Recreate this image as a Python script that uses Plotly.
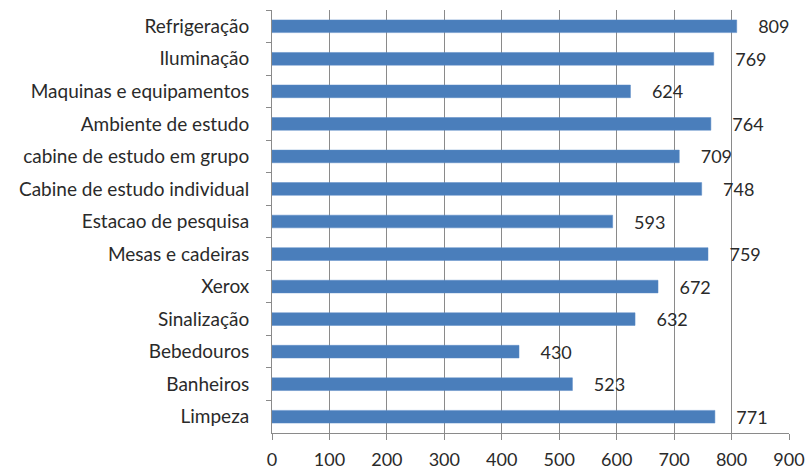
import plotly.graph_objects as go

categories = ["Refrigeração", "Iluminação", "Maquinas e equipamentos", "Ambiente de estudo",
              "cabine de estudo em grupo", "Cabine de estudo individual", "Estacao de pesquisa",
              "Mesas e cadeiras", "Xerox", "Sinalização", "Bebedouros", "Banheiros", "Limpeza"]
values = [809, 769, 624, 764, 709, 748, 593, 759, 672, 632, 430, 523, 771]
x_ticks = [0, 100, 200, 300, 400, 500, 600, 700, 800, 900]

font_family = "Lato, 'Open Sans', sans-serif"
text_color = "#2a2a2a"

fig = go.Figure()
fig.add_trace(go.Bar(
    y=categories, x=values, orientation="h",
    marker=dict(color="#4A7EBB", line=dict(color="#5B8BC6", width=0.5)),
    text=values, texttemplate="    %{x}", textposition="outside",
    constraintext="none",
    textfont=dict(family=font_family, size=18, color=text_color),
    cliponaxis=False,
))
fig.update_layout(
    width=809, height=472,
    margin=dict(l=272, r=20, t=10, b=39),
    plot_bgcolor="white", paper_bgcolor="white",
    bargap=0.61, showlegend=False,
    font=dict(family=font_family, size=18, color=text_color),
)
fig.update_xaxes(range=[0, 900], tickvals=x_ticks, showgrid=True, gridcolor="#8a8a8a", gridwidth=1,
                 showline=True, linecolor="#8a8a8a", ticks="outside", ticklen=6, tickcolor="#8a8a8a",
                 zeroline=False, tickfont=dict(size=18), ticklabelstandoff=4, automargin=False,
                 fixedrange=True)
fig.update_yaxes(autorange="reversed", showline=True, linecolor="#8a8a8a", ticks="outside",
                 ticklen=5, tickcolor="#8a8a8a", tickson="boundaries", showgrid=False,
                 tickfont=dict(size=19), ticklabelstandoff=18, automargin=False, fixedrange=True)
fig.write_html("out.html")
